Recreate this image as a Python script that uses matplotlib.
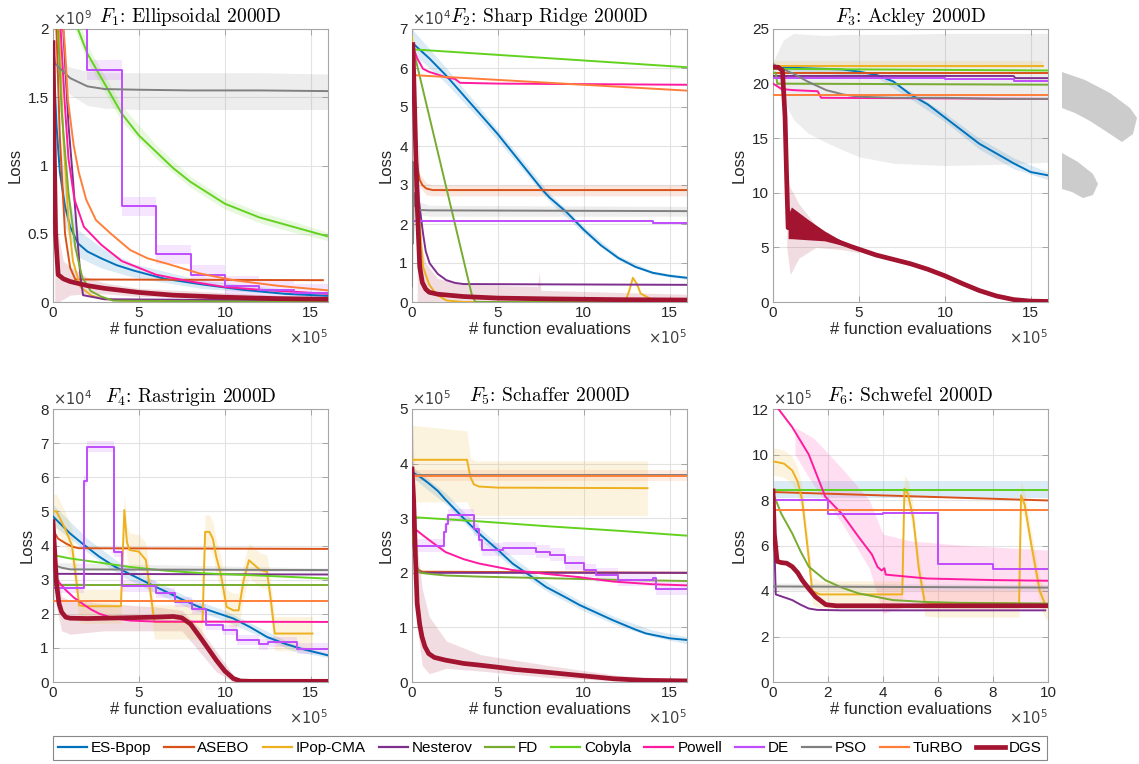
import numpy as np
import matplotlib
matplotlib.use("Agg")
import matplotlib.pyplot as plt
from matplotlib.lines import Line2D
from matplotlib.patches import Polygon

# -----------------------
# Methods / colours
# -----------------------
METHODS = ["ES-Bpop", "ASEBO", "IPop-CMA", "Nesterov", "FD", "Cobyla",
           "Powell", "DE", "PSO", "TuRBO", "DGS"]
COLORS = {
    "ES-Bpop": "#0072bd", "ASEBO": "#d95319", "IPop-CMA": "#edb120",
    "Nesterov": "#7e2f8e", "FD": "#77ac30", "Cobyla": "#62d21f",
    "Powell": "#ff1aa0", "DE": "#c04cfd", "PSO": "#808080",
    "TuRBO": "#ff7f3a", "DGS": "#a2142f",
}
STEP_METHODS = {"DE"}

# -----------------------
# F1: Ellipsoidal (x in 1e5, y in 1e9)
# -----------------------
F1 = {
    "ES-Bpop": ([0, 0.2, 0.4, 0.7, 1.0, 1.45, 2.0, 2.8, 3.7, 4.7, 6.5, 8.6, 11, 13.5, 16],
                [1.9, 1.3, 0.95, 0.7, 0.55, 0.43, 0.37, 0.32, 0.27, 0.23, 0.17, 0.13, 0.09, 0.06, 0.045]),
    "ASEBO": ([0.1, 0.4, 0.7, 1.0, 1.3, 15.7], [2.4, 1.2, 0.5, 0.25, 0.165, 0.16]),
    "IPop-CMA": ([0.3, 0.6, 0.9, 1.16, 1.6, 2.2, 2.8, 4, 16],
                 [2.2, 1.2, 0.6, 0.3, 0.11, 0.05, 0.025, 0.01, 0.003]),
    "Nesterov": ([0.55, 0.9, 1.16, 1.4, 1.6, 1.75, 3, 16], [2.1, 1.3, 0.9, 0.5, 0.18, 0.05, 0.02, 0.01]),
    "FD": ([0.25, 0.5, 0.9, 1.3, 1.7, 2.2, 2.8, 3.5, 16], [2.1, 1.4, 0.8, 0.4, 0.18, 0.08, 0.04, 0.01, 0.0]),
    "Cobyla": ([1.2, 1.45, 2, 3, 4, 5, 6, 7, 8, 10, 12, 14, 16],
               [2.1, 2.0, 1.82, 1.6, 1.38, 1.22, 1.1, 0.98, 0.88, 0.72, 0.62, 0.55, 0.48]),
    "Powell": ([0.4, 0.67, 0.9, 1.25, 1.8, 2.8, 4, 6, 8, 10, 12, 16],
               [2.1, 1.48, 1.05, 0.75, 0.55, 0.42, 0.3, 0.2, 0.15, 0.11, 0.09, 0.06]),
    "DE": ([0, 2, 4, 6, 8, 10, 12, 14, 16], [2.5, 1.7, 0.7, 0.35, 0.2, 0.12, 0.085, 0.065, 0.065]),
    "PSO": ([0, 0.1, 0.5, 1, 2, 3, 5, 8, 12, 16], [1.9, 1.75, 1.7, 1.64, 1.58, 1.56, 1.555, 1.55, 1.55, 1.545]),
    "TuRBO": ([0.5, 0.7, 0.87, 1.2, 1.5, 1.93, 2.5, 3.37, 4.5, 5.5, 6.65, 8.5, 10.5, 13, 16],
              [2.2, 1.85, 1.48, 1.15, 0.95, 0.75, 0.6, 0.5, 0.38, 0.32, 0.28, 0.21, 0.16, 0.12, 0.085]),
    "DGS": ([0, 0.05, 0.15, 0.3, 0.6, 1, 2, 3, 5, 7, 10, 13, 16],
            [1.9, 1.3, 0.5, 0.2, 0.17, 0.15, 0.12, 0.1, 0.07, 0.05, 0.035, 0.025, 0.02]),
}
F1_BANDS = [
    ("PSO", [0.1, 0.5, 1, 2, 3, 5, 8, 12, 16], [1.7, 1.6, 1.52, 1.44, 1.42, 1.41, 1.41, 1.41, 1.41],
     [1.78, 1.75, 1.72, 1.69, 1.68, 1.68, 1.68, 1.68, 1.67]),
    ("Cobyla", [1.2, 2, 4, 6, 8, 10, 12, 14, 16], [2.02, 1.76, 1.32, 1.05, 0.84, 0.68, 0.58, 0.51, 0.45],
     [2.18, 1.88, 1.44, 1.15, 0.92, 0.76, 0.66, 0.59, 0.51]),
    ("ES-Bpop", [0.2, 0.7, 1.45, 2.8, 4.7, 8.6, 16], [1.1, 0.55, 0.33, 0.25, 0.18, 0.1, 0.03],
     [1.5, 0.85, 0.53, 0.4, 0.28, 0.16, 0.06]),
    ("DGS", [0.1, 0.3, 0.6, 1, 2, 3, 5, 16], [0.0, 0.0, 0.02, 0.05, 0.06, 0.06, 0.04, 0.01],
     [1.0, 0.5, 0.3, 0.26, 0.18, 0.14, 0.1, 0.03]),
]
F1_DE_SPREAD = 0.07

# -----------------------
# F2: Sharp Ridge (x in 1e5, y in 1e4)
# -----------------------
F2 = {
    "ES-Bpop": ([0, 0.5, 1, 2, 3, 4, 5, 6, 7, 7.6, 8, 9, 10, 11, 12, 13, 14, 15, 16],
                [6.65, 6.45, 6.25, 5.8, 5.3, 4.8, 4.3, 3.75, 3.2, 2.87, 2.68, 2.3, 1.85, 1.45, 1.13, 0.9, 0.75, 0.67, 0.62]),
    "ASEBO": ([0, 0.1, 0.3, 0.45, 0.6, 0.83, 1.2, 16], [6.6, 5.0, 3.5, 3.13, 3.0, 2.91, 2.87, 2.87]),
    "IPop-CMA": ([0, 0.2, 0.4, 0.64, 1.0, 1.4, 2.0, 3, 12.4, 12.65, 12.85, 13.1, 13.3, 13.7, 14.2, 16],
                 [6.8, 4.5, 2.3, 0.9, 0.45, 0.2, 0.04, 0.0, 0.0, 0.3, 0.62, 0.45, 0.22, 0.12, 0.0, 0.0]),
    "Nesterov": ([0.05, 0.2, 0.4, 0.64, 0.8, 1.03, 1.5, 2.0, 2.5, 3.0, 16],
                 [6.6, 4.5, 2.6, 1.76, 1.3, 0.99, 0.72, 0.56, 0.49, 0.46, 0.44]),
    "FD": ([0, 0.2, 3.5, 3.7, 16], [6.5, 6.25, 0.15, 0.0, 0.0]),
    "Cobyla": ([0, 16], [6.48, 6.02]),
    "Powell": ([0, 0.3, 0.64, 1.0, 2.0, 2.5, 2.8, 5, 16], [6.6, 6.25, 5.98, 5.9, 5.76, 5.72, 5.62, 5.6, 5.57]),
    "DE": ([0, 14, 16], [2.07, 2.03, 2.03]),
    "PSO": ([0, 0.03, 0.06, 0.1, 0.2, 0.4, 1, 16], [0.4, 3.6, 1.5, 2.8, 2.45, 2.36, 2.35, 2.33]),
    "TuRBO": ([0, 16], [5.82, 5.42]),
    "DGS": ([0.05, 0.15, 0.3, 0.45, 0.6, 0.8, 1.0, 1.5, 3, 5, 8, 12, 16],
            [6.6, 5.0, 2.5, 0.9, 0.5, 0.33, 0.25, 0.2, 0.14, 0.1, 0.08, 0.06, 0.05]),
}
F2_BANDS = [
    ("ES-Bpop", [0, 1, 2, 4, 6, 8, 10, 12, 14, 16], [6.4, 6.0, 5.6, 4.65, 3.62, 2.57, 1.76, 1.07, 0.71, 0.58],
     [7.0, 6.5, 6.0, 4.95, 3.88, 2.79, 1.94, 1.19, 0.79, 0.66]),
    ("ASEBO", [0.45, 0.83, 1.2, 16], [2.95, 2.75, 2.72, 2.72], [3.3, 3.05, 3.0, 3.0]),
    ("PSO", [0.2, 1, 16], [2.25, 2.2, 2.2], [2.6, 2.48, 2.45]),
    ("DGS", [0.3, 0.4, 0.5, 0.8, 1.5, 3, 7.3, 7.4, 7.5, 16], [0, 0, 0, 0, 0.02, 0.03, 0.02, 0.02, 0.02, 0.01],
     [3.2, 4.2, 1.5, 1.0, 0.6, 0.45, 0.4, 0.75, 0.3, 0.2]),
]

# -----------------------
# F3: Ackley (x in 1e5)
# -----------------------
F3 = {
    "ES-Bpop": ([0, 2, 4, 5, 6, 7, 8, 9, 10, 11, 12, 13, 14, 15, 16],
                [21.5, 21.4, 21.3, 21.1, 20.8, 20.2, 19.0, 18.1, 16.9, 15.7, 14.5, 13.6, 12.7, 11.9, 11.6]),
    "ASEBO": ([0, 16], [21.0, 21.0]),
    "IPop-CMA": ([0, 15.7], [21.6, 21.6]),
    "Nesterov": ([0, 14, 14.1, 16], [20.7, 20.7, 20.5, 20.5]),
    "FD": ([0, 0.15, 0.25, 16], [21.0, 21.0, 20.0, 19.9]),
    "Cobyla": ([0, 16], [21.35, 21.2]),
    "Powell": ([0, 0.5, 1.2, 2.6, 2.8, 16], [20.0, 19.5, 19.4, 19.3, 18.7, 18.6]),
    "DE": ([0, 10, 14, 16], [20.55, 20.4, 20.2, 20.2]),
    "PSO": ([0, 0.3, 0.6, 1.2, 2, 3.1, 4.1, 5, 7, 10, 13, 16],
            [21.8, 21.5, 21.3, 20.9, 20.2, 19.4, 19.0, 18.8, 18.7, 18.7, 18.6, 18.6]),
    "TuRBO": ([0, 16], [19.0, 19.0]),
    "DGS": ([0, 0.3, 0.55, 0.7, 0.8, 0.88, 1.0, 1.5, 2.5, 3.5, 4.5, 6, 8, 9, 10, 11, 12, 13, 14, 15, 16],
            [21.5, 21.5, 21.2, 17, 11, 6.8, 7.2, 6.9, 6.3, 5.7, 5.1, 4.3, 3.5, 3.0, 2.4, 1.7, 1.05, 0.55, 0.22, 0.08, 0.05]),
}
F3_BANDS = [
    ("PSO", [0, 0.3, 0.6, 1.2, 2, 3.1, 4.1, 5, 7, 10, 13, 16],
     [21.5, 20.0, 18.5, 16.7, 15.5, 14.6, 13.9, 13.3, 12.7, 12.5, 12.6, 12.8],
     [22.0, 23.0, 24.0, 24.6, 24.5, 24.4, 24.5, 24.5, 24.5, 24.6, 24.6, 24.6]),
    ("IPop-CMA", [0, 15.7], [21.4, 21.4], [22.1, 22.1]),
    ("ES-Bpop", [0, 6, 8, 10, 12, 14, 16], [21.3, 20.6, 18.6, 16.5, 14.0, 12.2, 11.2],
     [21.7, 21.0, 19.3, 17.3, 15.0, 13.2, 11.9]),
    ("DGS", [0.8, 1.0, 1.5, 2.5, 4, 5], [5.0, 2.5, 4.0, 5.0, 4.8, 4.5], [12.0, 10.5, 9.0, 7.0, 5.6, 5.0]),
]
# dense oscillation of DGS on F3
F3_DGS_OSC_X = [0.88, 1.07, 2.0, 3.0, 4.0, 4.5]
F3_DGS_OSC_LO = [5.8, 5.8, 5.7, 5.6, 5.2, 5.0]
F3_DGS_OSC_HI = [8.0, 8.7, 7.6, 6.5, 5.6, 5.2]

# -----------------------
# F4: Rastrigin (x in 1e5, y in 1e4)
# -----------------------
F4 = {
    "ES-Bpop": ([0, 0.5, 1, 1.7, 2.7, 3.6, 4.6, 5.6, 6.6, 7.5, 8.5, 9.5, 10.5, 11.5, 12.45, 13.5, 14.4, 15.2, 16],
                [4.85, 4.6, 4.35, 4.06, 3.67, 3.38, 3.13, 2.88, 2.64, 2.42, 2.2, 2.03, 1.86, 1.6, 1.32, 1.12, 0.98, 0.88, 0.78]),
    "ASEBO": ([0, 0.3, 0.75, 1.1, 1.5, 16], [4.45, 4.2, 4.06, 3.97, 3.92, 3.9]),
    "IPop-CMA": ([0, 0.2, 0.35, 0.7, 1.1, 1.35, 1.52, 1.8, 3.95, 4.15, 4.3, 4.45, 5.0, 5.4, 5.65, 5.9,
                  8.7, 8.85, 9.1, 9.3, 9.5, 9.75, 10.1, 10.5, 10.8, 11.1, 11.4, 12.05, 12.45, 12.65, 12.9, 15.1],
                 [5.0, 5.0, 4.85, 4.5, 4.0, 3.0, 2.25, 2.22, 2.22, 5.04, 4.1, 3.87, 3.82, 3.58, 2.7, 1.76,
                  1.76, 4.4, 4.4, 4.2, 3.67, 3.2, 2.2, 2.1, 2.1, 3.0, 3.57, 3.28, 3.23, 2.5, 1.42, 1.42]),
    "Nesterov": ([0, 16], [3.17, 3.15]),
    "FD": ([0, 16], [2.85, 2.85]),
    "Cobyla": ([0, 1, 2.7, 4.5, 6.6, 9, 12, 16], [3.72, 3.62, 3.5, 3.37, 3.26, 3.18, 3.12, 3.03]),
    "Powell": ([0, 0.3, 0.75, 1.2, 1.7, 2.2, 2.7, 3.2, 3.67, 4.5, 6, 16],
               [3.2, 2.95, 2.69, 2.48, 2.3, 2.13, 2.0, 1.92, 1.86, 1.8, 1.77, 1.76]),
    "DE": ([0, 1.8, 2.0, 3.57, 4.0, 6.0, 7.1, 8.1, 8.9, 9.9, 10.7, 12.0, 12.5, 14.2, 16],
           [2.75, 5.9, 6.9, 3.8, 2.8, 2.6, 2.35, 2.15, 1.67, 1.52, 1.22, 1.1, 1.18, 0.98, 0.98]),
    "PSO": ([0, 0.02, 0.05, 0.1, 0.5, 1, 16], [1.0, 3.5, 3.4, 3.42, 3.35, 3.3, 3.28]),
    "TuRBO": ([0, 16], [2.37, 2.37]),
    "DGS": ([0, 0.1, 0.2, 0.35, 0.5, 0.74, 1.0, 2, 4, 6, 7, 7.5, 8, 8.55, 9, 9.5, 10, 10.5, 10.9, 11.5, 16],
            [4.7, 3.8, 2.9, 2.3, 2.05, 1.9, 1.87, 1.86, 1.88, 1.9, 1.92, 1.88, 1.7, 1.32, 1.0, 0.64, 0.32, 0.1, 0.03, 0.02, 0.02]),
}
F4_BANDS = [
    ("ES-Bpop", [0, 2, 4, 6, 8, 10, 12, 14, 16], [4.6, 3.8, 3.1, 2.6, 2.15, 1.8, 1.35, 0.9, 0.72],
     [5.2, 4.2, 3.45, 2.95, 2.45, 2.1, 1.6, 1.1, 0.85]),
    ("PSO", [0.05, 16], [3.3, 3.22], [3.5, 3.34]),
    ("DGS", [0.2, 0.5, 1, 3, 6, 7.5, 8.5, 9.5, 10.5, 11, 16], [2.2, 1.5, 1.4, 1.5, 1.5, 1.5, 0.9, 0.3, 0.0, 0.0, 0.0],
     [3.6, 2.5, 2.4, 2.3, 2.2, 2.1, 1.6, 0.9, 0.2, 0.06, 0.05]),
]
F4_IPOP_SPREAD = 0.5
F4_DE_SPREAD = 0.15

# -----------------------
# F5: Schaffer (x in 1e5, y in 1e5)
# -----------------------
F5 = {
    "ES-Bpop": ([0, 0.5, 0.97, 1.5, 1.95, 3, 3.9, 5, 5.85, 7, 7.8, 9, 9.75, 11, 11.7, 13, 13.6, 15, 16],
                [3.85, 3.75, 3.64, 3.5, 3.34, 3.0, 2.72, 2.42, 2.17, 1.92, 1.74, 1.54, 1.41, 1.23, 1.13, 0.96, 0.89, 0.8, 0.77]),
    "ASEBO": ([0, 0.1, 0.2, 0.35, 0.6, 16], [3.0, 2.55, 2.2, 2.06, 2.02, 2.0]),
    "IPop-CMA": ([0, 3.2, 3.4, 3.6, 3.9, 5, 13.7], [4.07, 4.07, 3.75, 3.62, 3.58, 3.56, 3.55]),
    "Nesterov": ([0, 0.1, 0.2, 0.35, 0.6, 16], [3.0, 2.5, 2.15, 2.03, 2.0, 2.0]),
    "FD": ([0, 0.1, 0.25, 0.5, 1, 2, 3.9, 8, 12, 16], [3.0, 2.4, 2.1, 2.0, 1.98, 1.95, 1.93, 1.9, 1.87, 1.85]),
    "Cobyla": ([0, 4, 8, 12, 16], [3.02, 2.94, 2.85, 2.77, 2.68]),
    "Powell": ([0, 0.5, 1, 1.95, 3, 3.9, 5.85, 7.8, 9.75, 11.7, 14, 16],
               [2.85, 2.72, 2.6, 2.38, 2.25, 2.17, 2.05, 1.98, 1.92, 1.84, 1.79, 1.77]),
    "DE": ([0, 1.85, 2.0, 2.1, 3.6, 3.9, 4.1, 5.3, 7.2, 8.0, 8.9, 10.0, 10.7, 12.0, 14.0, 14.2, 16],
           [2.5, 2.75, 2.9, 3.05, 2.8, 2.6, 2.42, 2.45, 2.39, 2.33, 2.18, 2.05, 1.96, 1.87, 1.9, 1.71, 1.71]),
    "PSO": ([0, 16], [3.79, 3.79]),
    "TuRBO": ([0, 16], [3.77, 3.77]),
    "DGS": ([0, 0.1, 0.2, 0.3, 0.45, 0.58, 0.75, 0.97, 1.3, 1.95, 3, 3.9, 5, 6, 7.8, 9.75, 11.7, 13.5, 16],
            [3.9, 3.3, 2.3, 1.44, 1.05, 0.83, 0.65, 0.52, 0.45, 0.4, 0.34, 0.31, 0.27, 0.23, 0.18, 0.12, 0.06, 0.03, 0.02]),
}
F5_BANDS = [
    ("IPop-CMA", [0, 3.2, 3.4, 3.7, 13.7], [3.3, 3.3, 3.15, 3.05, 3.05], [4.7, 4.6, 4.1, 4.05, 4.05]),
    ("TuRBO", [0, 16], [3.68, 3.68], [3.88, 3.88]),
    ("ES-Bpop", [0, 2, 4, 6, 8, 10, 12, 14, 16], [3.75, 3.25, 2.6, 2.05, 1.63, 1.3, 1.03, 0.83, 0.7],
     [3.95, 3.45, 2.8, 2.25, 1.8, 1.45, 1.17, 0.95, 0.83]),
    ("DGS", [0, 0.3, 0.6, 1, 2, 4, 8, 12, 16], [3.6, 1.0, 0.3, 0.15, 0.25, 0.2, 0.08, 0.02, 0.0],
     [5.0, 2.5, 1.7, 1.2, 0.75, 0.5, 0.3, 0.12, 0.05]),
]
F5_DE_SPREAD = 0.12

# -----------------------
# F6: Schwefel (x in 1e5, y in 1e5)
# -----------------------
F6 = {
    "ES-Bpop": ([0, 10], [8.45, 8.45]),
    "ASEBO": ([0, 10], [8.35, 7.98]),
    "IPop-CMA": ([0, 0.4, 0.7, 0.9, 1.06, 1.25, 1.43, 1.7, 4.7, 4.78, 4.9, 5.1, 5.3, 5.52, 6,
                  8.95, 9.02, 9.15, 9.4, 9.7, 9.9, 10],
                 [9.7, 9.6, 9.3, 8.8, 8.0, 6.0, 4.0, 3.85, 3.85, 8.5, 8.3, 7.2, 5.0, 3.5, 3.45,
                  3.45, 8.2, 7.8, 6.0, 4.0, 3.4, 3.35]),
    "Nesterov": ([0, 0.1, 0.7, 1.0, 1.3, 1.6, 2.5, 9.9], [8.3, 3.85, 3.6, 3.4, 3.23, 3.17, 3.15, 3.15]),
    "FD": ([0, 0.3, 0.7, 1.0, 1.3, 1.9, 2.5, 3.1, 4.36, 5.5, 6.8, 10],
           [8.3, 7.4, 6.53, 5.75, 5.07, 4.48, 4.15, 3.9, 3.6, 3.52, 3.48, 3.45]),
    "Cobyla": ([0, 10], [8.43, 8.43]),
    "Powell": ([0.2, 0.7, 1.3, 1.9, 2.5, 3.1, 3.6, 3.8, 3.95, 4.05, 4.1, 5.6, 8.0, 10],
               [12.0, 11.2, 10.0, 8.15, 7.4, 6.4, 5.6, 5.06, 4.9, 5.0, 4.72, 4.55, 4.48, 4.45]),
    "DE": ([0, 2, 4, 6, 8, 10], [8.0, 7.4, 7.42, 5.2, 4.95, 4.95]),
    "PSO": ([0, 10], [4.2, 4.15]),
    "TuRBO": ([0, 10], [7.55, 7.55]),
    "DGS": ([0, 0.05, 0.15, 0.3, 0.5, 0.7, 0.9, 1.06, 1.3, 1.55, 1.92, 2.3, 10],
            [8.4, 6.5, 5.3, 5.25, 5.22, 5.07, 4.8, 4.48, 4.1, 3.74, 3.4, 3.35, 3.35]),
}
F6_BANDS = [
    ("ES-Bpop", [0, 10], [8.1, 8.1], [8.85, 8.85]),
    ("Powell", [0.8, 1.5, 2.5, 3.5, 4, 5, 7, 10], [10.0, 8.6, 7.0, 5.0, 3.0, 3.4, 3.4, 3.3],
     [11.2, 10.7, 9.4, 8.0, 6.5, 6.2, 6.0, 5.8]),
    ("PSO", [0, 10], [4.05, 4.02], [4.35, 4.28]),
]
F6_IPOP_SPREAD = 0.6

PANELS = [
    ("1", "Ellipsoidal", F1, F1_BANDS, [0, 2], [0, 0.5, 1, 1.5, 2], 16, 9),
    ("2", "Sharp Ridge", F2, F2_BANDS, [0, 7], list(range(8)), 16, 4),
    ("3", "Ackley", F3, F3_BANDS, [0, 25], [0, 5, 10, 15, 20, 25], 16, None),
    ("4", "Rastrigin", F4, F4_BANDS, [0, 8], list(range(9)), 16, 4),
    ("5", "Schaffer", F5, F5_BANDS, [0, 5], list(range(6)), 16, 5),
    ("6", "Schwefel", F6, F6_BANDS, [0, 12], [0, 2, 4, 6, 8, 10, 12], 10, 5),
]

# -----------------------
# Figure
# -----------------------
plt.rcParams["font.family"] = ["Liberation Sans", "DejaVu Sans"]
plt.rcParams["mathtext.fontset"] = "dejavusans"

W, H = 1139, 764
fig = plt.figure(figsize=(W / 100, H / 100), dpi=100)

lefts = [53, 412, 773]
tops = [29, 409]
AX_W, AX_H = 275, 273
TXT = "#262626"
EDGE = "#a6a6a6"


def add_band(ax, x, lo, hi, color, step=None):
    ax.fill_between(x, lo, hi, color=color, alpha=0.14, lw=0, zorder=1, step=step)


for i, (fidx, fname, data, bands, ylim, yticks, xmax, yexp) in enumerate(PANELS):
    r, c = divmod(i, 3)
    ax = fig.add_axes([lefts[c] / W, 1 - (tops[r] + AX_H) / H, AX_W / W, AX_H / H])

    for name, bx, blo, bhi in bands:
        add_band(ax, bx, blo, bhi, COLORS[name])

    # constant spreads
    if i == 0:
        x, y = data["DE"]
        add_band(ax, x, np.array(y) - F1_DE_SPREAD, np.array(y) + F1_DE_SPREAD, COLORS["DE"], step="post")
    if i == 3:
        x, y = data["IPop-CMA"]
        add_band(ax, x, np.array(y) - F4_IPOP_SPREAD, np.array(y) + F4_IPOP_SPREAD, COLORS["IPop-CMA"])
        x, y = data["DE"]
        add_band(ax, x, np.array(y) - F4_DE_SPREAD, np.array(y) + F4_DE_SPREAD, COLORS["DE"], step="post")
    if i == 4:
        x, y = data["DE"]
        add_band(ax, x, np.array(y) - F5_DE_SPREAD, np.array(y) + F5_DE_SPREAD, COLORS["DE"], step="post")
    if i == 5:
        x, y = data["IPop-CMA"]
        add_band(ax, x, np.array(y) - F6_IPOP_SPREAD, np.array(y) + F6_IPOP_SPREAD, COLORS["IPop-CMA"])

    for name in METHODS:
        x, y = data[name]
        lw = 3.4 if name == "DGS" else 1.4
        ds = "steps-post" if name in STEP_METHODS else "default"
        ax.plot(x, y, color=COLORS[name], lw=lw, drawstyle=ds, zorder=5 if name == "DGS" else 3,
                solid_joinstyle="round")

    if i == 2:
        ax.fill_between(F3_DGS_OSC_X, F3_DGS_OSC_LO, F3_DGS_OSC_HI, color=COLORS["DGS"], lw=0, zorder=5)

    ax.set_xlim(0, xmax)
    ax.set_ylim(*ylim)
    ax.set_yticks(yticks)
    ax.set_xticks([0, 5, 10, 15] if xmax == 16 else [0, 2, 4, 6, 8, 10])
    ax.yaxis.set_major_formatter(matplotlib.ticker.FormatStrFormatter("%g"))
    ax.grid(True, color="#e3e3e3", lw=0.8)
    ax.set_axisbelow(True)
    for s in ax.spines.values():
        s.set_color(EDGE)
        s.set_linewidth(0.8)
    ax.tick_params(direction="in", length=4, width=0.7, color=EDGE, labelsize=11,
                   labelcolor=TXT, top=True, right=True, pad=3)
    ax.set_xlabel("# function evaluations", fontsize=12, color=TXT, labelpad=1)
    ax.set_ylabel("Loss", fontsize=12, color=TXT, labelpad=4)
    ax.set_title(r"$F_{%s}$: %s 2000D" % (fidx, fname), fontsize=14, pad=5,
                 family="cmr10", math_fontfamily="cm", color="black")

    if yexp is not None:
        ax.text(0.0, 1.004, r"$\times10^{%d}$" % yexp, transform=ax.transAxes, ha="left", va="bottom",
                fontsize=10.5, color="#404040")
    ax.text(1.0, -0.095, r"$\times10^{5}$", transform=ax.transAxes, ha="right", va="top",
            fontsize=10.5, color="#404040")

# -----------------------
# Legend
# -----------------------
handles = [Line2D([], [], color=COLORS[m], lw=3.4 if m == "DGS" else 1.6) for m in METHODS]
leg = fig.legend(handles, METHODS, loc="center", bbox_to_anchor=(550 / W, 1 - 748 / H), ncol=11,
                 frameon=True, fancybox=False, edgecolor="#888888", framealpha=1,
                 handlelength=1.9, handletextpad=0.25, columnspacing=0.85, borderpad=0.35,
                 prop={"family": ["Liberation Sans Narrow", "Liberation Sans"], "size": 11})
leg.get_frame().set_linewidth(0.8)

# grey arc shapes at the right edge
arc1 = [(1062, 72), (1085, 80), (1110, 93), (1130, 108), (1137, 118), (1133, 134), (1122, 142),
        (1110, 134), (1090, 121), (1075, 113), (1062, 108)]
arc2 = [(1062, 153), (1078, 162), (1093, 174), (1098, 184), (1093, 195), (1083, 198), (1072, 192), (1062, 189)]
for pts in (arc1, arc2):
    fig.add_artist(Polygon([(px / W, 1 - py / H) for px, py in pts], closed=True,
                           transform=fig.transFigure, color="#cccccc", lw=0))

fig.savefig("out.png", dpi=100)
